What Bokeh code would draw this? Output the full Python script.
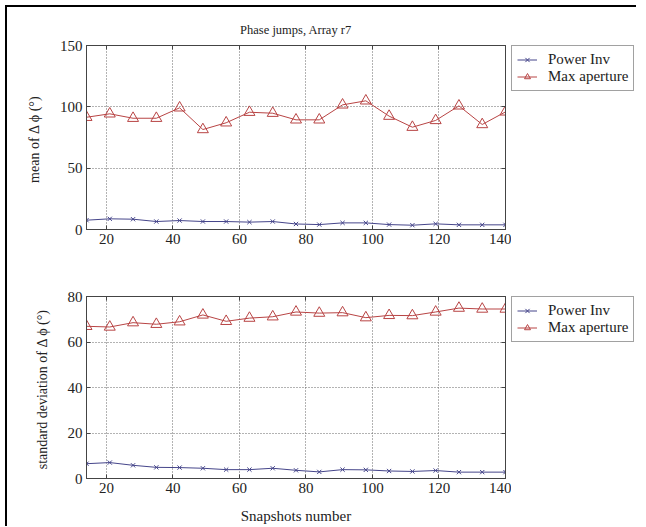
from bokeh.plotting import figure
from bokeh.layouts import column, row
from bokeh.models import LinearAxis, Legend, LegendItem, FixedTicker, Range1d
from bokeh.embed import file_html
from bokeh.resources import INLINE

snapshots = [14, 21, 28, 35, 42, 49, 56, 63, 70, 77, 84, 91, 98, 105, 112, 119, 126, 133, 140]
mean_power_inv = [7.6, 8.7, 8.4, 6.5, 7.3, 6.5, 6.5, 6.0, 6.5, 4.5, 4.0, 5.4, 5.4, 4.0, 3.5, 4.6, 3.8, 3.8, 3.8]
mean_max_aperture = [91.5, 94.3, 90.7, 90.7, 99.2, 81.5, 87.0, 95.6, 94.8, 89.4, 89.4, 101.6, 104.9, 92.4, 83.4, 88.9, 100.8, 85.6, 95.9]
std_power_inv = [6.5, 7.0, 5.8, 4.9, 4.8, 4.5, 3.9, 3.9, 4.5, 3.6, 2.9, 3.9, 3.8, 3.3, 3.1, 3.5, 2.8, 2.8, 2.8]
std_max_aperture = [66.9, 66.6, 68.5, 67.8, 68.9, 71.9, 69.1, 70.5, 71.1, 73.2, 72.7, 72.9, 70.7, 71.7, 71.6, 73.2, 74.9, 74.5, 74.5]
x_ticks = [20, 40, 60, 80, 100, 120, 140]
mean_ticks = [0, 50, 100, 150]
std_ticks = [0, 20, 40, 60, 80]
series_names = ["Power Inv", "Max aperture"]

FONT = "Liberation Serif"
BLUE = "#45458a"
RED = "#b84444"
LEFT = 79
FRAME_W = 419
RIGHT = 6
MAIN_W = LEFT + FRAME_W + RIGHT
LEG_W = 125


def draw_series(p, pinv, maxap):
    l1 = p.line(snapshots, pinv, line_color=BLUE, line_width=1)
    m1 = p.scatter(snapshots, pinv, marker="x", size=6, line_color=BLUE, line_width=1)
    l2 = p.line(snapshots, maxap, line_color=RED, line_width=1)
    m2 = p.scatter(snapshots, maxap, marker="triangle", size=11, line_color=RED,
                   fill_color=None, line_width=1)
    return l1, m1, l2, m2


def make_panel(height, ymax, yticks, ylabel, pinv, maxap, title=None, xlabel=None,
               border_top=38, border_bottom=33):
    p = figure(width=MAIN_W, height=height, output_backend="svg", toolbar_location=None,
               x_range=Range1d(14, 140), y_range=Range1d(0, ymax),
               min_border_left=LEFT, min_border_right=RIGHT,
               min_border_top=border_top, min_border_bottom=border_bottom, title=title)
    p.outline_line_color = "#444444"
    p.outline_line_width = 1
    if title:
        p.title.text_font = FONT
        p.title.text_font_size = "12.5px"
        p.title.text_font_style = "normal"
        p.title.align = "center"
        p.title.text_color = "#222222"
        p.title.offset = 0
        p.title.standoff = 18
    for ax in (p.xaxis[0], p.yaxis[0]):
        ax.major_label_text_font = FONT
        ax.major_label_text_font_size = "15px"
        ax.major_label_text_color = "#222222"
        ax.axis_label_text_font = FONT
        ax.axis_label_text_font_size = "14px"
        ax.axis_label_text_font_style = "normal"
        ax.axis_label_text_color = "#222222"
        ax.major_tick_in = 4
        ax.major_tick_out = 0
        ax.minor_tick_in = 0
        ax.minor_tick_out = 0
        ax.axis_line_color = "#444444"
        ax.major_tick_line_color = "#444444"
    p.xaxis[0].ticker = FixedTicker(ticks=x_ticks)
    p.yaxis[0].ticker = FixedTicker(ticks=yticks)
    p.xaxis[0].major_label_standoff = 4
    p.yaxis[0].major_label_standoff = 4
    p.yaxis[0].axis_label = ylabel
    p.yaxis[0].axis_label_standoff = 15
    if xlabel:
        p.xaxis[0].axis_label = xlabel
        p.xaxis[0].axis_label_standoff = 12
        p.xaxis[0].axis_label_text_font_size = "15px"
    for loc, tk in (("right", yticks), ("above", x_ticks)):
        a = LinearAxis(ticker=FixedTicker(ticks=tk),
                       major_label_overrides={t: "" for t in tk},
                       major_label_text_font_size="1px",
                       major_tick_in=4, major_tick_out=0, minor_tick_in=0, minor_tick_out=0,
                       axis_line_color="#444444", major_tick_line_color="#444444",
                       major_label_standoff=0)
        p.add_layout(a, loc)
    p.xgrid.ticker = FixedTicker(ticks=x_ticks)
    p.ygrid.ticker = FixedTicker(ticks=yticks)
    for g in (p.xgrid[0], p.ygrid[0]):
        g.grid_line_color = "#666666"
        g.grid_line_dash = "1 2"
        g.grid_line_width = 1
    draw_series(p, pinv, maxap)

    # legend panel: a small companion figure (view range kept away from the data)
    q = figure(width=LEG_W, height=height, output_backend="svg", toolbar_location=None,
               x_range=Range1d(-2000, -1000), y_range=Range1d(-2000, -1000),
               x_axis_location=None, y_axis_location=None,
               min_border_left=0, min_border_right=0, min_border_bottom=0,
               min_border_top=border_top)
    q.outline_line_color = None
    q.xgrid.visible = False
    q.ygrid.visible = False
    l1, m1, l2, m2 = draw_series(q, pinv, maxap)
    leg = Legend(items=[LegendItem(label=series_names[0], renderers=[l1, m1]),
                        LegendItem(label=series_names[1], renderers=[l2, m2])],
                 location="top_left", orientation="vertical")
    leg.label_text_font = FONT
    leg.label_text_font_size = "15px"
    leg.label_text_color = "#222222"
    leg.glyph_width = 20
    leg.glyph_height = 15
    leg.label_height = 15
    leg.label_standoff = 11
    leg.spacing = 0
    leg.padding = 5
    leg.margin = 0
    leg.border_line_color = "#444444"
    leg.border_line_width = 1
    leg.background_fill_alpha = 1
    q.add_layout(leg, "center")
    return row(p, q, spacing=0)


r1 = make_panel(255, 150, mean_ticks, "mean of  \u0394 \u03d5 (\u00b0)",
                mean_power_inv, mean_max_aperture, title="Phase jumps, Array r7",
                border_top=38, border_bottom=33)
r2 = make_panel(264, 80, std_ticks, "standard deviation of  \u0394 \u03d5 (\u00b0)",
                std_power_inv, std_max_aperture, xlabel="Snapshots number",
                border_top=34, border_bottom=47)

layout = column(r1, r2, spacing=0,
                styles={"border-top": "2px solid black", "border-left": "2px solid black",
                        "margin-left": "5px", "margin-top": "5px"})

open("out.html", "w").write(file_html(layout, INLINE))
